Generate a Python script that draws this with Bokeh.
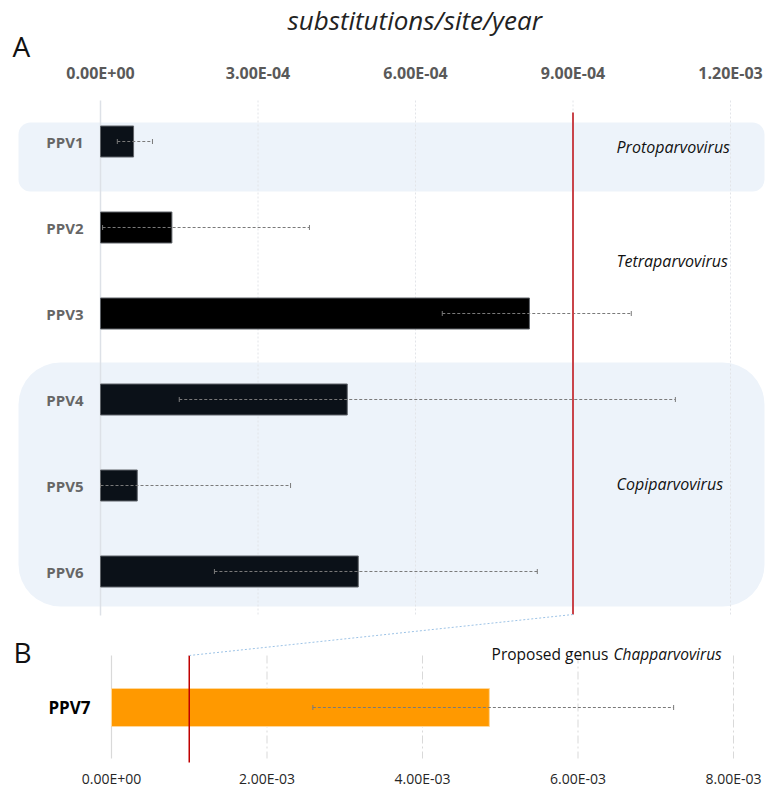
from bokeh.plotting import figure
from bokeh.models import (Range1d, LinearAxis, FixedTicker, BoxAnnotation,
                          ColumnDataSource, Title)
from bokeh.core.properties import value
from bokeh.embed import file_html
from bokeh.resources import INLINE

# ---------------- data ----------------
viruses_a = ["PPV1", "PPV2", "PPV3", "PPV4", "PPV5", "PPV6"]
rate_a = [6.3e-5, 1.36e-4, 8.17e-4, 4.70e-4, 7.0e-5, 4.91e-4]
low_a = [3.2e-5, 4.0e-6, 6.51e-4, 1.50e-4, 0.0, 2.17e-4]
high_a = [9.9e-5, 3.98e-4, 1.011e-3, 1.095e-3, 3.62e-4, 8.32e-4]
genera = ["Protoparvovirus", "Tetraparvovirus", "Copiparvovirus"]

virus_b = ["PPV7"]
rate_b = [4.86e-3]
low_b = [2.59e-3]
high_b = [7.23e-3]

threshold_a = 9.0e-4
threshold_b = 1.0e-3

ticks_a = [0.0, 3e-4, 6e-4, 9e-4, 1.2e-3]
tick_labels_a = ["0.00E+00", "3.00E-04", "6.00E-04", "9.00E-04", "1.20E-03"]
ticks_b = [0.0, 2e-3, 4e-3, 6e-3, 8e-3]
tick_labels_b = ["0.00E+00", "2.00E-03", "4.00E-03", "6.00E-03", "8.00E-03"]

# ---------------- layout (page pixels) ----------------
W, H = 765, 792
A0_PX, A_SCALE = 100.0, 525000.0   # px per unit, panel A
B0_PX, B_SCALE = 111.0, 77750.0    # px per unit, panel B
FT, FB = 95, 762                   # frame top / bottom (page px)


def px_a(px):
    return (px - A0_PX) / A_SCALE


def px_b(px):
    return (px - B0_PX) / B_SCALE


def b_to_a(v):
    return px_a(B0_PX + v * B_SCALE)


ROW0, ROW_STEP = 141, 86
rows_a = [ROW0 + ROW_STEP * i for i in range(len(viruses_a))]
row_b = [707]
genus_y = [146, 260, 483]
CAP = 2.5

FONT = "Open Sans"

p = figure(width=W, height=H,
           x_range=Range1d(px_a(0), px_a(W)),
           y_range=Range1d(FB, FT),
           output_backend="svg", toolbar_location=None,
           x_axis_location=None, y_axis_location=None,
           min_border_left=0, min_border_right=0,
           min_border_top=FT, min_border_bottom=H - FB,
           title="substitutions/site/year")
p.extra_x_ranges = {"b": Range1d(px_b(0), px_b(W))}
p.outline_line_color = None
p.grid.visible = False
p.background_fill_color = "white"
p.border_fill_color = "white"

p.title.align = "left"
p.title.offset = 287
p.title.standoff = -14
p.title.text_font = FONT
p.title.text_font_style = "italic"
p.title.text_font_size = "26px"
p.title.text_color = "#222222"

# ---------------- axes ----------------
ax_a = LinearAxis(ticker=FixedTicker(ticks=ticks_a),
                  major_label_overrides={t: l for t, l in zip(ticks_a, tick_labels_a)})
ax_a.axis_line_color = None
ax_a.major_tick_line_color = None
ax_a.minor_tick_line_color = None
ax_a.major_tick_out = 0
ax_a.major_tick_in = 0
ax_a.minor_tick_out = 0
ax_a.major_label_standoff = 12
ax_a.major_label_text_font = FONT
ax_a.major_label_text_font_style = "bold"
ax_a.major_label_text_font_size = "16px"
ax_a.major_label_text_color = "#595959"
p.add_layout(ax_a, "above")

# panel letter A (stacked between the title and the top axis)
p.add_layout(Title(text="A", align="left", offset=12, standoff=-12, text_font=FONT,
                   text_font_size="28px", text_font_style="normal",
                   text_color="#111111"), "above")

ax_b = LinearAxis(x_range_name="b", ticker=FixedTicker(ticks=ticks_b),
                  major_label_overrides={t: l for t, l in zip(ticks_b, tick_labels_b)})
ax_b.axis_line_color = None
ax_b.major_tick_line_color = None
ax_b.minor_tick_line_color = None
ax_b.major_tick_out = 0
ax_b.major_tick_in = 0
ax_b.minor_tick_out = 0
ax_b.major_label_standoff = 6
ax_b.major_label_text_font = FONT
ax_b.major_label_text_font_size = "14px"
ax_b.major_label_text_color = "#262626"
p.add_layout(ax_b, "below")

# ---------------- genus bands ----------------
band_fill = "#edf3fa"
p.add_layout(BoxAnnotation(left=px_a(18), right=px_a(764), top=122, bottom=191,
                           border_radius=12, fill_color=band_fill, fill_alpha=1,
                           line_alpha=0, level="underlay"))
p.add_layout(BoxAnnotation(left=px_a(18), right=px_a(764), top=362, bottom=606,
                           border_radius=42, fill_color=band_fill, fill_alpha=1,
                           line_alpha=0, level="underlay"))

# ---------------- grid lines ----------------
p.segment(x0=ticks_a[1:], x1=ticks_a[1:], y0=100, y1=615,
          line_color="#e2e4e8", line_width=1, line_dash="2 2")
p.segment(x0=[ticks_a[0]], x1=[ticks_a[0]], y0=100, y1=615,
          line_color="#dde1e7", line_width=1.5)
p.segment(x0=ticks_b[1:], x1=ticks_b[1:], y0=655, y1=758, x_range_name="b",
          line_color="#d9d9d9", line_width=1, line_dash="8 3 2 3")
p.segment(x0=[ticks_b[0]], x1=[ticks_b[0]], y0=655, y1=758, x_range_name="b",
          line_color="#d9d9d9", line_width=1.2)

# ---------------- bars panel A ----------------
band_rows = {0, 3, 4, 5}
bar_colors = ["#0b1118" if i in band_rows else "#000000" for i in range(len(viruses_a))]
src_a = ColumnDataSource(dict(y=rows_a, rate=rate_a, lo=low_a, hi=high_a,
                              name=viruses_a, color=bar_colors,
                              ct=[y - CAP for y in rows_a], cb=[y + CAP for y in rows_a]))
p.hbar(y="y", left=0, right="rate", height=31, source=src_a,
       fill_color="color", line_color="#5f6368", line_width=1)

ERR = "#7a7a7a"
p.segment(x0="lo", x1="hi", y0="y", y1="y", source=src_a,
          line_color=ERR, line_width=1, line_dash="3 2")
p.segment(x0="lo", x1="lo", y0="ct", y1="cb", source=src_a, line_color=ERR, line_width=1)
p.segment(x0="hi", x1="hi", y0="ct", y1="cb", source=src_a, line_color=ERR, line_width=1)

p.text(x=0, y="y", text="name", source=src_a, x_offset=-17,
       text_align="right", text_baseline="middle",
       text_font=value(FONT), text_font_style="bold", text_font_size="15px",
       text_color="#666666")

# genus labels
p.text(x=px_a(616), y=genus_y, text=genera, text_align="left", text_baseline="middle",
       text_font=value(FONT), text_font_style="italic", text_font_size="16px",
       text_color="#111111")

# threshold line A
p.segment(x0=[threshold_a], x1=[threshold_a], y0=112, y1=614,
          line_color="#c9444a", line_width=2)

# ---------------- panel B ----------------
src_b = ColumnDataSource(dict(y=row_b, rate=rate_b, lo=low_b, hi=high_b, name=virus_b,
                              ct=[y - CAP for y in row_b], cb=[y + CAP for y in row_b]))
p.hbar(y="y", left=0, right="rate", height=38, source=src_b, x_range_name="b",
       fill_color="#ff9900", line_color="#ffd79a", line_width=1)
p.segment(x0="lo", x1="hi", y0="y", y1="y", source=src_b, x_range_name="b",
          line_color=ERR, line_width=1, line_dash="3 2")
p.segment(x0="lo", x1="lo", y0="ct", y1="cb", source=src_b, x_range_name="b",
          line_color=ERR, line_width=1)
p.segment(x0="hi", x1="hi", y0="ct", y1="cb", source=src_b, x_range_name="b",
          line_color=ERR, line_width=1)
p.text(x=0, y="y", text="name", source=src_b, x_range_name="b", x_offset=-21,
       text_align="right", text_baseline="middle",
       text_font=value(FONT), text_font_style="bold", text_font_size="17px",
       text_color="#000000")

p.segment(x0=[threshold_b], x1=[threshold_b], y0=655, y1=766, x_range_name="b",
          line_color="#c00000", line_width=1.5)

# connector between panels
p.segment(x0=[threshold_a], x1=[b_to_a(threshold_b)], y0=614, y1=655,
          line_color="#9dc3e6", line_width=1, line_dash="2 2")

# panel letter B and proposed genus label
p.text(x=px_a(13), y=[651], text=["B"], text_align="left", text_baseline="middle",
       text_font=value(FONT), text_font_size="28px", text_color="#111111")
p.text(x=px_b(608), y=[653], text=["Proposed genus"], x_range_name="b",
       text_align="right", text_baseline="middle",
       text_font=value(FONT), text_font_size="15.5px", text_color="#111111")
p.text(x=px_b(613), y=[653], text=["Chapparvovirus"], x_range_name="b",
       text_align="left", text_baseline="middle",
       text_font=value(FONT), text_font_style="italic", text_font_size="15.5px",
       text_color="#111111")

open("out.html", "w").write(file_html(p, INLINE))
